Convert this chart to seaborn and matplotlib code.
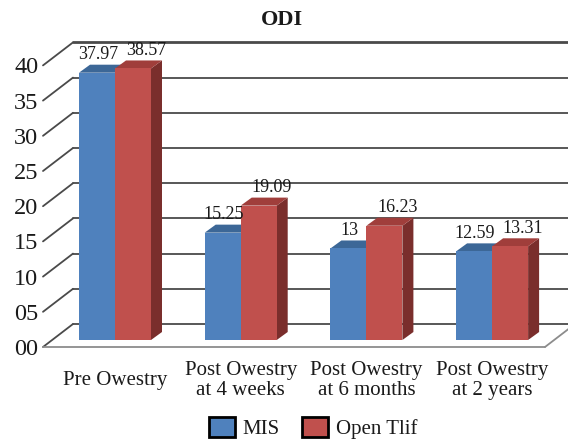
import numpy as np
import pandas as pd
import matplotlib
matplotlib.use("Agg")
import matplotlib.pyplot as plt
from matplotlib.patches import Polygon, Patch
import seaborn as sns

# ---- data -------------------------------------------------------------
categories = ["Pre Owestry", "Post Owestry\nat 4 weeks",
              "Post Owestry\nat 6 months", "Post Owestry\nat 2 years"]
groups = ["MIS", "Open Tlif"]
mis_values = [37.97, 15.25, 13.00, 12.59]
open_tlif_values = [38.57, 19.09, 16.23, 13.31]
value_labels_mis = ["37.97", "15.25", "13", "12.59"]
value_labels_open = ["38.57", "19.09", "16.23", "13.31"]
y_ticks = [0, 5, 10, 15, 20, 25, 30, 35, 40]
y_tick_labels = ["00", "05", "10", "15", "20", "25", "30", "35", "40"]
title = "ODI"

# ---- styling ----------------------------------------------------------
face = {"MIS": "#4F81BD", "Open Tlif": "#C0504D"}
top = {"MIS": "#3C6797", "Open Tlif": "#A03E3B"}
side = {"MIS": "#35597F", "Open Tlif": "#7A2E2C"}
grid_color = "#4a4a4a"
floor_color = "#8c8c8c"
text_color = "#1a1a1a"

sns.set_theme(style="white")
plt.rcParams["font.family"] = ["Liberation Serif", "DejaVu Serif"]

W, H = 568, 440
fig = plt.figure(figsize=(W / 100, H / 100), dpi=100)

# geometry of the oblique projection (pixels)
PX_PER_CAT = 125.7
PX_PER_UNIT = 7.04
FRONT_LEFT, FRONT_RIGHT, FRONT_ZERO = 43, 545, 347
CAT0_FRONT = 107
WALL_DX, WALL_DY = 30, 23          # front plane -> back wall
BAR_DX, BAR_DY = 8, 7              # front plane -> bar faces
DEPTH_DX, DEPTH_DY = 11, 8         # bar depth

xlim = ((FRONT_LEFT - CAT0_FRONT) / PX_PER_CAT,
        (FRONT_RIGHT - CAT0_FRONT) / PX_PER_CAT)
ylim = (0, 40)
ax_w = (FRONT_RIGHT - FRONT_LEFT) / W
ax_h = 40 * PX_PER_UNIT / H


def plane_rect(dx, dy):
    return [(FRONT_LEFT + dx) / W, (H - FRONT_ZERO + dy) / H, ax_w, ax_h]


ax_back = fig.add_axes(plane_rect(WALL_DX, WALL_DY), zorder=0)
ax_front = fig.add_axes(plane_rect(0, 0), zorder=1)
ax_bar = fig.add_axes(plane_rect(BAR_DX, BAR_DY), zorder=2)
for ax in (ax_back, ax_front, ax_bar):
    ax.set_xlim(*xlim)
    ax.set_ylim(*ylim)
    ax.patch.set_visible(False)
    for s in ax.spines.values():
        s.set_visible(False)

# back wall gridlines
ax_back.set_xticks([])
ax_back.set_yticks([])
for v in y_ticks:
    ax_back.axhline(v, color=grid_color, lw=2.0 if v == 40 else 1.3,
                    clip_on=False, zorder=1)

# front plane: value axis, side-wall diagonals and floor edge
ax_front.set_xticks([])
ax_front.set_yticks(y_ticks)
ax_front.set_yticklabels(y_tick_labels, fontsize=17.5, color=text_color)
ax_front.tick_params(axis="y", length=0, pad=3.5)
ddx_wall = WALL_DX / PX_PER_CAT
ddy_wall = WALL_DY / PX_PER_UNIT
for v in y_ticks:
    ax_front.plot([xlim[0], xlim[0] + ddx_wall], [v, v + ddy_wall],
                  color=grid_color, lw=1.3, clip_on=False)
ax_front.plot([xlim[0], xlim[1]], [0, 0], color=floor_color, lw=1.3,
              clip_on=False)
ax_front.plot([xlim[1], xlim[1] + ddx_wall], [0, ddy_wall],
              color=floor_color, lw=1.3, clip_on=False)

# bars
df = pd.DataFrame({
    "category": categories * 2,
    "group": [groups[0]] * 4 + [groups[1]] * 4,
    "value": mis_values + open_tlif_values,
})
sns.barplot(data=df, x="category", y="value", hue="group",
            order=categories, hue_order=groups,
            palette=[face[g] for g in groups], saturation=1,
            width=72 / PX_PER_CAT, legend=False, ax=ax_bar, linewidth=0)
ax_bar.set_xlim(*xlim)
ax_bar.set_ylim(*ylim)
ax_bar.set_xlabel("")
ax_bar.set_ylabel("")
ax_bar.set_yticks([])

# extrude bars into 3D boxes
ddx = DEPTH_DX / PX_PER_CAT
ddy = DEPTH_DY / PX_PER_UNIT
bars = sorted(ax_bar.patches, key=lambda p: p.get_x())
label_lookup = {}
for g, vals, labs in ((groups[0], mis_values, value_labels_mis),
                      (groups[1], open_tlif_values, value_labels_open)):
    for v, l in zip(vals, labs):
        label_lookup[(g, round(v, 2))] = l
for k, p in enumerate(bars):
    x, w, h = p.get_x(), p.get_width(), p.get_height()
    fc = matplotlib.colors.to_hex(p.get_facecolor())
    g = "MIS" if fc.lower() == face["MIS"].lower() else "Open Tlif"
    z = 3 + 3 * k
    ax_bar.add_patch(Polygon([(x + w, 0), (x + w, h), (x + w + ddx, h + ddy),
                              (x + w + ddx, ddy)], closed=True,
                             facecolor=side[g], edgecolor="none", zorder=z))
    ax_bar.add_patch(Polygon([(x, h), (x + w, h), (x + w + ddx, h + ddy),
                              (x + ddx, h + ddy)], closed=True,
                             facecolor=top[g], edgecolor="none", zorder=z + 1))
    p.set_zorder(z + 2)
    shift = 1 if g == "MIS" else 13
    ax_bar.annotate(label_lookup[(g, round(h, 2))],
                    xy=(x + w / 2, h + ddy), xytext=(shift * 0.72, 10 * 0.72),
                    textcoords="offset points", ha="center", va="center",
                    fontsize=13, color=text_color, zorder=50)

# category labels
ax_bar.tick_params(axis="x", length=0, pad=29)
for lab in ax_bar.get_xticklabels():
    lab.set_fontsize(15)
    lab.set_color(text_color)
    lab.set_verticalalignment("center")
    lab.set_linespacing(1.1)

# title
fig.text(282 / W, 1 - 20 / H, title, ha="center", va="center",
         fontsize=16, fontweight="bold", color=text_color)

# legend
handles = [Patch(facecolor=face[g], edgecolor="black", linewidth=2, label=g)
           for g in groups]
fig.legend(handles=handles, loc="center", ncol=2, frameon=False,
           bbox_to_anchor=(313 / W, 1 - 428 / H), fontsize=15,
           handlelength=1.25, handleheight=1.1, handletextpad=0.35,
           columnspacing=1.1, labelcolor=text_color)

fig.savefig("out.png", dpi=100)
